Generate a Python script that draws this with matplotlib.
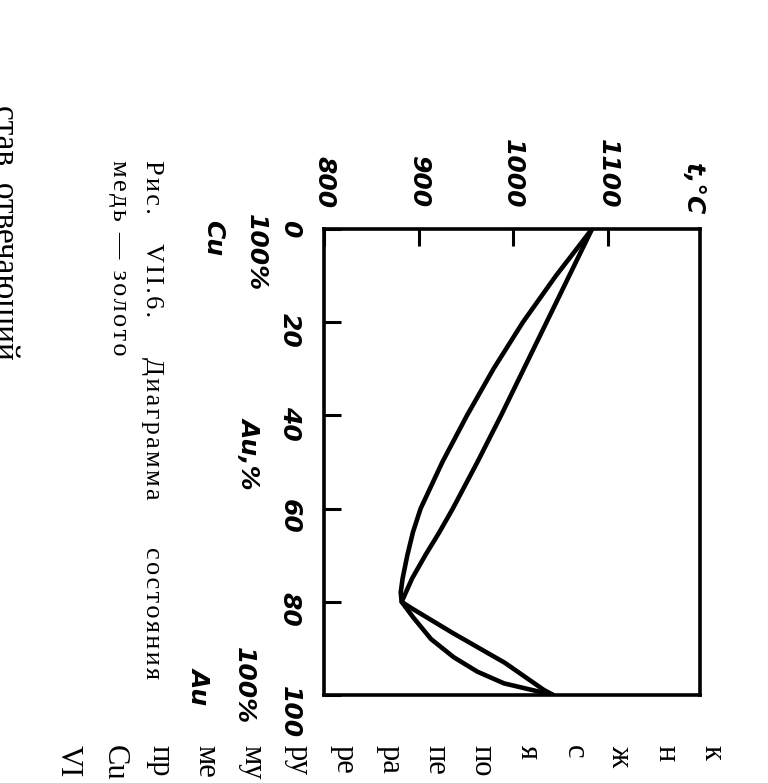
import matplotlib
matplotlib.use("Agg")
import matplotlib.pyplot as plt
import matplotlib.transforms as mtransforms

# Au, % и температура, °C
au_solidus = [0, 10, 20, 30, 40, 50, 60, 65, 70, 75, 78, 80, 83.3, 88, 91.9, 95, 97.5, 100]
t_solidus = [1083, 1045, 1010, 979, 951, 925, 902, 894, 888, 883, 881, 882, 894, 913, 937, 962, 990, 1042]

au_liquidus = [0, 10, 20, 30, 40, 50, 60, 65, 70, 75, 80, 81.2, 86.7, 93.1, 98.9, 100]
t_liquidus = [1083, 1059, 1035, 1011, 987, 962, 936, 922, 907, 893, 882, 891, 936, 991, 1032, 1042]

t_ticks = [800, 900, 1000, 1100]
t_labels = ['800', '900', '1000', '1100']
au_ticks = [0, 20, 40, 60, 80, 100]
au_labels = ['0', '20', '40', '60', '80', '100']

caption1 = ['Рис.', 'VII.6.', 'Диаграмма', 'состояния']
caption2 = 'медь — золото'
# начала строк соседнего текста (внизу листа)
line_starts = ['VI', 'Cu', 'пр', 'ме', 'му', 'ру', 'ре', 'ра', 'пе', 'по', 'я', 'с', 'ж', 'н', 'к']

W, H = 768, 783
fig = plt.figure(figsize=(W / 100, H / 100), dpi=100)

hand = dict(family='DejaVu Sans', style='italic', weight='bold', rotation=-90)
serif = dict(family=['Liberation Serif', 'DejaVu Serif'], rotation=-90)


def spaced(word):
    # разрядка, как в подписи книги
    return '\u200a'.join(word)


x0, x1, y0, y1 = 324, 700, 229, 695
ax = fig.add_axes([x0 / W, 1 - y1 / H, (x1 - x0) / W, (y1 - y0) / H])

ax.plot(t_solidus, au_solidus, color='k', lw=3.3, solid_joinstyle='round', solid_capstyle='round')
ax.plot(t_liquidus, au_liquidus, color='k', lw=3.3, solid_joinstyle='round', solid_capstyle='round')

ax.set_xlim(800, 1197)
ax.set_ylim(100, 0)
for s in ax.spines.values():
    s.set_linewidth(2.6)

ax.xaxis.tick_top()
ax.set_xticks(t_ticks)
ax.set_xticklabels(t_labels, fontsize=18, **hand)
ax.set_yticks(au_ticks)
ax.set_yticklabels(au_labels, fontsize=18, **hand)
ax.tick_params(axis='x', direction='in', length=12, width=2.2, pad=15)
ax.tick_params(axis='y', direction='in', length=12, width=2.2, pad=16)

# подписи левее шкалы состава
tr_y = mtransforms.blended_transform_factory(ax.transAxes, ax.transData)
ax.text(-0.18, 5, '100%', transform=tr_y, ha='center', va='center', fontsize=18, **hand)
ax.text(-0.295, 2, 'Cu', transform=tr_y, ha='center', va='center', fontsize=18, **hand)
ax.text(-0.197, 48, 'Au,%', transform=tr_y, ha='center', va='center', fontsize=18, **hand)
ax.text(-0.213, 98, '100%', transform=tr_y, ha='center', va='center', fontsize=18, **hand)
ax.text(-0.33, 98, 'Au', transform=tr_y, ha='center', va='center', fontsize=18, **hand)

tr_x = mtransforms.blended_transform_factory(ax.transData, ax.transAxes)
ax.text(1190, 1.03, 't,°C', transform=tr_x, ha='center', va='bottom', fontsize=18, **hand)

# подпись к рисунку
cap_y = [160, 243, 357, 547]
for word, y in zip(caption1, cap_y):
    fig.text(152 / W, 1 - y / H, spaced(word), ha='center', va='top', fontsize=19, **serif)
fig.text(119 / W, 1 - 160 / H, spaced(caption2), ha='center', va='top', fontsize=19, **serif)

# обрывки основного текста страницы
fig.text(4 / W, 1 - 105 / H, 'став  отвечающий', ha='center', va='top', fontsize=24, **serif)
n = len(line_starts)
for i, s in enumerate(line_starts):
    x = 68 + i * (712 - 68) / (n - 1)
    fig.text(x / W, 1 - 745 / H, s, ha='center', va='top', fontsize=22, **serif)

fig.savefig('out.png', dpi=100)
